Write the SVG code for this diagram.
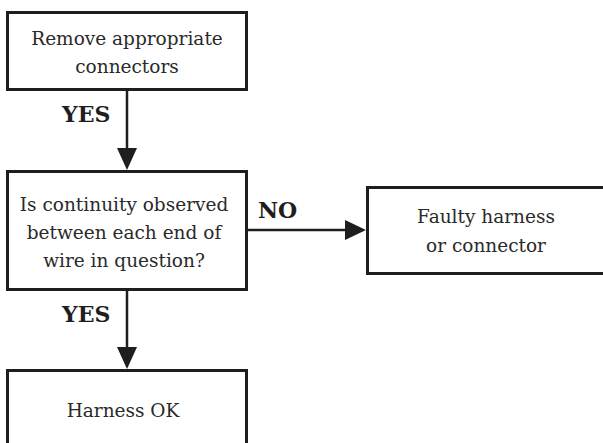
<svg xmlns="http://www.w3.org/2000/svg" width="603" height="443" viewBox="0 0 603 443">
<defs>
<style>
.box{fill:#fff;stroke:#1e1e1e;stroke-width:3}
.t{font-family:"DejaVu Serif","Liberation Serif",serif;font-size:18.5px;fill:#2a2a2a;text-anchor:middle}
.lbl{font-family:"DejaVu Serif","Liberation Serif",serif;font-size:22px;font-weight:bold;fill:#1e1e1e}
.ln{stroke:#1e1e1e;stroke-width:2.5;fill:none}
.ah{fill:#1e1e1e}
</style>
</defs>
<rect width="603" height="443" fill="#fff"/>
<g id="connectors">
<line class="ln" x1="127" y1="91" x2="127" y2="150"/>
<polygon class="ah" points="117,148 137,148 127,170"/>
<line class="ln" x1="127" y1="291" x2="127" y2="349"/>
<polygon class="ah" points="117,347 137,347 127,369"/>
<line class="ln" x1="248" y1="230" x2="347" y2="230"/>
<polygon class="ah" points="345,220 345,240 366,230"/>
<text class="lbl" x="62" y="122">YES</text>
<text class="lbl" x="62" y="322">YES</text>
<text class="lbl" x="258" y="218">NO</text>
</g>
<g id="remove">
<rect class="box" x="7.5" y="12.5" width="239" height="77"/>
<text class="t" x="127" y="45">Remove appropriate</text>
<text class="t" x="127" y="73">connectors</text>
</g>
<g id="continuity">
<rect class="box" x="7.5" y="171.5" width="239" height="118"/>
<text class="t" x="124" y="211">Is continuity observed</text>
<text class="t" x="124" y="239">between each end of</text>
<text class="t" x="124" y="267">wire in question?</text>
</g>
<g id="faulty">
<rect class="box" x="367.5" y="187.5" width="240" height="86"/>
<text class="t" x="486" y="223">Faulty harness</text>
<text class="t" x="486" y="252">or connector</text>
</g>
<g id="ok">
<rect class="box" x="7.5" y="370.5" width="239" height="80"/>
<text class="t" x="123" y="417">Harness OK</text>
</g>
</svg>
